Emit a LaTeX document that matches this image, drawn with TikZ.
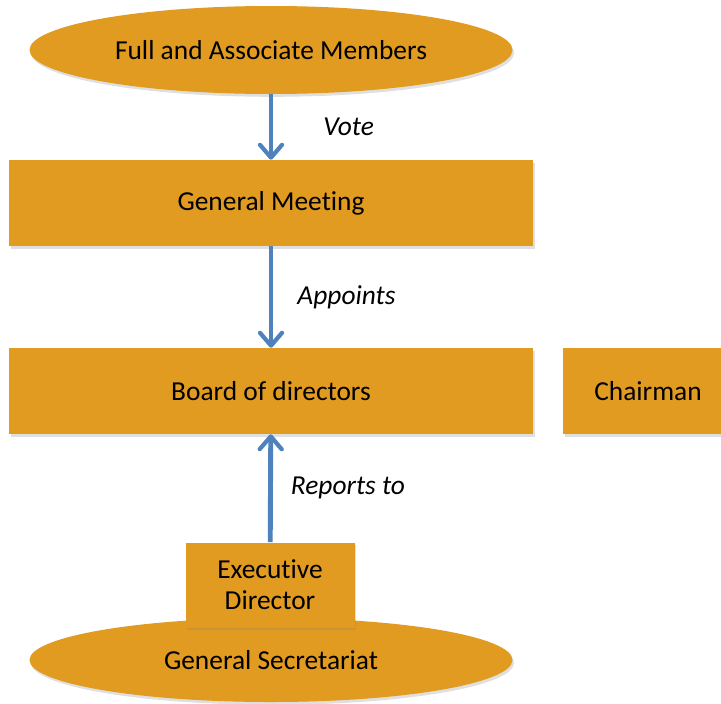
\documentclass[tikz,border=0pt]{standalone}
\usepackage{fontspec}
\setmainfont[Ligatures={NoCommon,NoRequired,NoContextual}]{Carlito}
\usetikzlibrary{shapes.geometric,shadows,arrows.meta}

\definecolor{boxorange}{RGB}{224,155,32}
\definecolor{linkblue}{RGB}{79,129,189}

\tikzstyle{body} = [ellipse, minimum width=12.075cm, minimum height=2.2cm, fill=boxorange, text centered, drop shadow={shadow xshift=0.4mm, shadow yshift=-0.7mm, opacity=0.25}]
\tikzstyle{process} = [rectangle, minimum width=13.1cm, minimum height=2.15cm, text centered, fill=boxorange, drop shadow={shadow xshift=0.4mm, shadow yshift=-0.7mm, opacity=0.25}]
\tikzstyle{arrow} = [line width=3.5pt, linkblue, -{Straight Barb[length=3.2mm, width=5.5mm, line width=3pt, round]}]
\tikzstyle{linklabel} = [font=\fontsize{19.5}{22}\selectfont\itshape, text=black, inner sep=0pt]

\begin{document}
\begin{tikzpicture}[font=\fontsize{19.5}{22}\selectfont, auto]
	\useasboundingbox (0,0) rectangle (18.025,-17.575);
	% Place nodes
	\node [body] (Members) at (6.775,-1.25) {Full and Associate Members};
	\node [process, below of=Members, node distance=3.825cm] (GeneralMeeting) {General Meeting};
	\node [process, below of=GeneralMeeting, node distance=4.7cm] (Board) {Board of directors};
	\node [process, right of=Board, node distance=9.425cm, minimum width=4.25cm] (Chairman) {Chairman};
	\node [body, below of=Board, node distance=6.725cm, minimum height=2.1cm] (Secretariat) {General Secretariat};
	\node [process, below of=Board, node distance=4.85cm, minimum width=4.225cm, minimum height=2.125cm, align=center, xshift=-0.025cm] (ExecutiveDirector) {Executive\\Director};
	% Draw edges
	\draw [arrow] (Members) -- node [linklabel, right, xshift=1.25cm] {Vote} (GeneralMeeting);
	\draw [arrow] (GeneralMeeting) -- node [linklabel, right, xshift=0.6cm] {Appoints} (Board);
	\draw [arrow] (ExecutiveDirector) -- node [linklabel, right, xshift=0.45cm] {Reports to} (Board);
\end{tikzpicture}
\end{document}
